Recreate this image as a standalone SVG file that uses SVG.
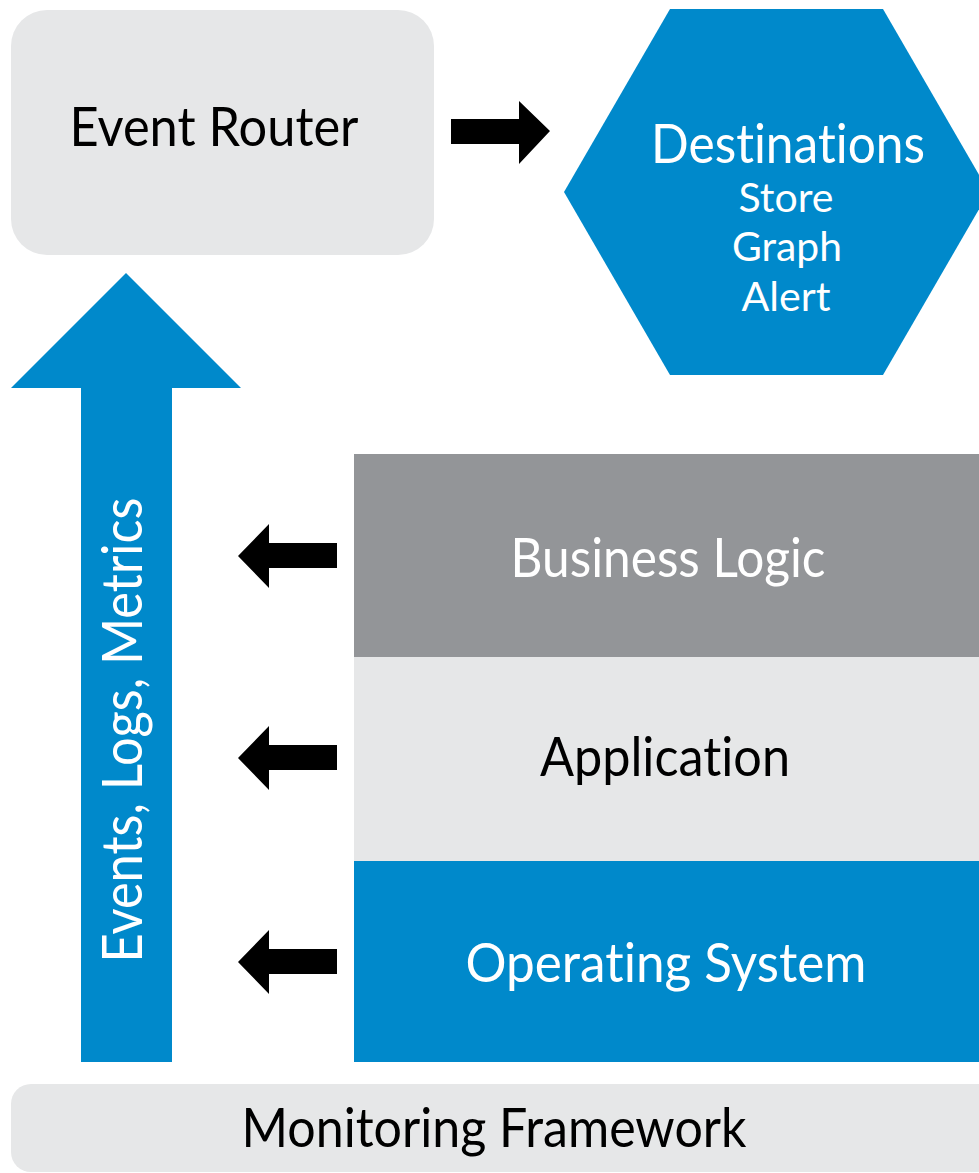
<svg xmlns="http://www.w3.org/2000/svg" width="979" height="1173" viewBox="0 0 979 1173">
<style>
.t{font-family:Lato,"Open Sans","Liberation Sans",sans-serif;text-anchor:middle;font-variant-ligatures:none;font-feature-settings:"liga" 0,"clig" 0,"dlig" 0}
.w{fill:#ffffff}
.k{fill:#000000}
.blue{fill:#0089cb}
.lg{fill:#e6e7e8}
.dg{fill:#939598}
.arr{fill:#000000}
</style>
<rect width="979" height="1173" fill="#ffffff"/>
<g id="event-router">
<rect class="lg" x="11" y="10" width="423" height="245" rx="36"/>
<text class="t k" x="214" y="146" font-size="54" textLength="289" lengthAdjust="spacingAndGlyphs">Event Router</text>
</g>
<g id="destinations">
<polygon class="blue" points="670,9 883,9 989,192 883,375 670,375 564,192"/>
<text class="t w" x="788" y="163" font-size="54" textLength="274" lengthAdjust="spacingAndGlyphs">Destinations</text>
<text class="t w" x="786" y="212" font-size="40" textLength="95" lengthAdjust="spacingAndGlyphs">Store</text>
<text class="t w" x="787" y="261" font-size="40" textLength="110" lengthAdjust="spacingAndGlyphs">Graph</text>
<text class="t w" x="786" y="311" font-size="40" textLength="89" lengthAdjust="spacingAndGlyphs">Alert</text>
</g>
<g id="business-logic">
<rect class="dg" x="354" y="454" width="625" height="203"/>
<text class="t w" x="668" y="577" font-size="55" textLength="315" lengthAdjust="spacingAndGlyphs">Business Logic</text>
</g>
<g id="application">
<rect class="lg" x="354" y="657" width="625" height="204"/>
<text class="t k" x="665" y="776" font-size="55" textLength="250" lengthAdjust="spacingAndGlyphs">Application</text>
</g>
<g id="operating-system">
<rect class="blue" x="354" y="861" width="625" height="201"/>
<text class="t w" x="666" y="982" font-size="55" textLength="401" lengthAdjust="spacingAndGlyphs">Operating System</text>
</g>
<g id="monitoring-framework">
<rect class="lg" x="11" y="1084" width="990" height="88" rx="20"/>
<text class="t k" x="494" y="1147" font-size="55" textLength="505" lengthAdjust="spacingAndGlyphs">Monitoring Framework</text>
</g>
<g id="events-arrow">
<polygon class="blue" points="126,273 241,388 172,388 172,1062 81,1062 81,388 11,388"/>
<text class="t w" transform="translate(142,730) rotate(-90)" x="0" y="0" font-size="56" textLength="465" lengthAdjust="spacingAndGlyphs">Events, Logs, Metrics</text>
</g>
<g id="connectors">
<polygon class="arr" points="451,119 519,119 519,101 550,131 519,164 519,144 451,144"/>
<polygon class="arr" points="238,556 269,524 269,543 337,543 337,568 269,568 269,588"/>
<polygon class="arr" points="238,758 269,726 269,745 337,745 337,770 269,770 269,790"/>
<polygon class="arr" points="238,962 269,930 269,949 337,949 337,974 269,974 269,994"/>
</g>
</svg>
